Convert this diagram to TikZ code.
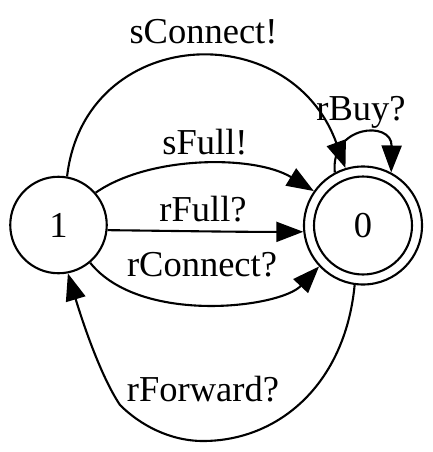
\documentclass[tikz,border=0pt]{standalone}
\usepackage{fontspec}
\setmainfont{Liberation Serif}
\usetikzlibrary{arrows.meta}
\begin{document}
\begin{tikzpicture}[x=1pt,y=-1pt,line width=2.1pt,
  >={Triangle[length=27pt,width=20pt]},
  every node/.style={font=\fontsize{36.5}{40}\selectfont},
  state/.style={circle,draw,inner sep=0pt},
  lbl/.style={anchor=base,inner sep=0pt}]
\useasboundingbox (0,0) rectangle (432,452);
\node[state,minimum size=96.5pt] (n1) at (58.5,225) {1};
\node[state,minimum size=98pt] (n0in) at (363,225.5) {0};
\node[state,minimum size=118pt] (n0) at (363,225.5) {};
% edges
\draw[->] (n1.80) .. controls (85,25) and (290,15) .. (n0.107);
\draw[->] (n0.118) .. controls (330,125) and (392,120) .. (n0.62);
\draw[->] (n1.41) .. controls (150,155) and (255,155) .. (n0.145);
\draw[->] (n1.-6) .. controls (180,231) and (240,232) .. (n0.186);
\draw[->] (n1.-50) .. controls (140,325) and (280,308) .. (n0.223);
\draw[->] (n0.262) .. controls (345,385) and (278,441) .. (203,441)
  .. controls (170,441) and (140,425) .. (120,405)
  .. controls (100,375) and (82,320) .. (n1.-79);
% labels
\node[lbl] (l1) at (203.5,44) {sConnect!};
\node[lbl] (l2) at (361,120) {rBuy?};
\node[lbl] (l3) at (205,154) {sFull!};
\node[lbl] (l4) at (203,221) {rFull?};
\node[lbl] (l5) at (202,276) {rConnect?};
\node[lbl] (l6) at (203,401) {rForward?};
\end{tikzpicture}
\end{document}
